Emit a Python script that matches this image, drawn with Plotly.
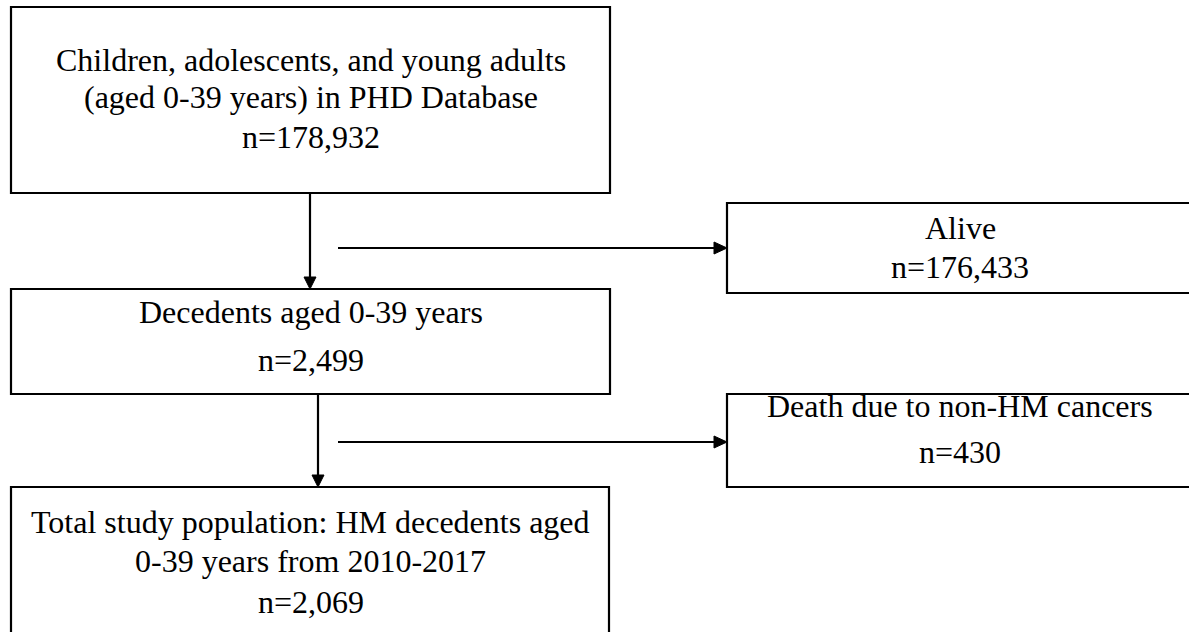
import plotly.graph_objects as go

# ---- data ----
stage_lines = [
    ["Children, adolescents, and young adults", "(aged 0-39 years) in PHD Database"],
    ["Decedents aged 0-39 years"],
    ["Total study population: HM decedents aged", "0-39 years from 2010-2017"],
]
stage_counts = [178932, 2499, 2069]
excluded_lines = [["Alive"], ["Death due to non-HM cancers"]]
excluded_counts = [176433, 430]

# ---- layout geometry (page pixels, y downwards) ----
W, H = 1189, 632
stage_boxes = [(11, 610, 7, 193), (11, 610, 289, 394), (11, 609, 487, 645)]
stage_baselines = [[71, 108, 148], [323, 371], [533, 572, 613]]
excl_boxes = [(727, 1196, 203, 293), (727, 1196, 394, 487)]
excl_baselines = [[239, 278], [417, 463]]
down_x = [310, 318]
side_y = [248, 442]
side_x0 = 338

FONT = dict(family="Liberation Serif, Times New Roman, serif", size=32, color="black")
LW = 2.2

fig = go.Figure()
shapes = []
annotations = []


def add_box(box, lines, baselines, cx=None):
    x0, x1, y0, y1 = box
    shapes.append(dict(type="rect", xref="x", yref="y", x0=x0, x1=x1, y0=y0, y1=y1,
                       line=dict(color="black", width=LW), fillcolor="white", layer="below"))
    c = cx if cx is not None else (x0 + x1) / 2
    for txt, b in zip(lines, baselines):
        annotations.append(dict(x=c, y=b - 11, xref="x", yref="y", text=txt,
                                showarrow=False, font=FONT, xanchor="center",
                                yanchor="middle"))


for box, lines, cnt, bl in zip(stage_boxes, stage_lines, stage_counts, stage_baselines):
    add_box(box, lines + [f"n={cnt:,}"], bl, cx=310.5)

for box, lines, cnt, bl in zip(excl_boxes, excluded_lines, excluded_counts, excl_baselines):
    add_box(box, lines + [f"n={cnt:,}"], bl, cx=960)


def arrow_down(x, y0, y1):
    shapes.append(dict(type="line", xref="x", yref="y", x0=x, x1=x, y0=y0, y1=y1 - 10,
                       line=dict(color="black", width=LW)))
    shapes.append(dict(type="path", xref="x", yref="y",
                       path=f"M {x-6},{y1-12} L {x+6},{y1-12} L {x},{y1} Z",
                       fillcolor="black", line=dict(color="black", width=1)))


def arrow_right(y, x0, x1):
    shapes.append(dict(type="line", xref="x", yref="y", x0=x0, x1=x1 - 10, y0=y, y1=y,
                       line=dict(color="black", width=LW)))
    shapes.append(dict(type="path", xref="x", yref="y",
                       path=f"M {x1-13},{y-6} L {x1-13},{y+6} L {x1},{y} Z",
                       fillcolor="black", line=dict(color="black", width=1)))


for i in range(2):
    arrow_down(down_x[i], stage_boxes[i][3], stage_boxes[i + 1][2])
    arrow_right(side_y[i], side_x0, excl_boxes[i][0])

fig.update_layout(
    width=W, height=H,
    margin=dict(l=0, r=0, t=0, b=0),
    paper_bgcolor="white", plot_bgcolor="white",
    xaxis=dict(range=[0, W], visible=False, fixedrange=True),
    yaxis=dict(range=[H, 0], visible=False, fixedrange=True),
    shapes=shapes, annotations=annotations, showlegend=False,
)

fig.write_html(
    "out.html",
    config={"displayModeBar": False},
    post_script="document.body.style.margin='0px';document.body.style.overflow='hidden';",
)
